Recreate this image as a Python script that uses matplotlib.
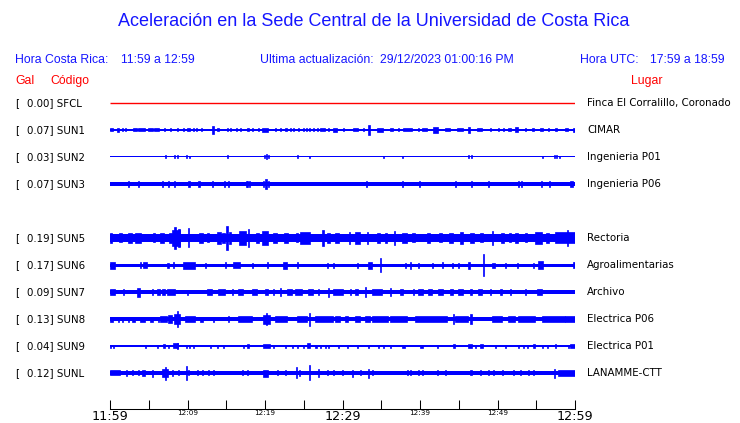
import matplotlib
matplotlib.use("Agg")
import matplotlib.pyplot as plt

# ---------------- data ----------------
title = "Aceleración en la Sede Central de la Universidad de Costa Rica"
hora_cr = "11:59 a 12:59"
ultima = "29/12/2023 01:00:16 PM"
hora_utc = "17:59 a 18:59"

codes = ["SFCL", "SUN1", "SUN2", "SUN3", "SUN5", "SUN6", "SUN7", "SUN8", "SUN9", "SUNL"]
gal = [0.00, 0.07, 0.03, 0.07, 0.19, 0.17, 0.09, 0.13, 0.04, 0.12]
places = ["Finca El Corralillo, Coronado", "CIMAR", "Ingenieria P01", "Ingenieria P06",
          "Rectoria", "Agroalimentarias", "Archivo", "Electrica P06", "Electrica P01", "LANAMME-CTT"]
rows = [0, 1, 2, 3, 5, 6, 7, 8, 9, 10]          # slot 4 (SUN4) empty
base_amp = [0.5, 0.8, 0.5, 1.9, 3.6, 1.5, 1.7, 1.7, 0.6, 1.7]   # background half-amplitude

tick_minutes = [0, 5, 10, 15, 20, 25, 30, 35, 40, 45, 50, 55, 60]
tick_labels = ["11:59", "", "12:09", "", "12:19", "", "12:29", "", "12:39", "", "12:49", "", "12:59"]
big_labels = ["11:59", "12:29", "12:59"]

# bursts: (start minute, duration minutes, half-amplitude)
sfcl = []
sun1 = [(0.0,0.4,1.5),(0.9,0.2,2),(1.5,0.2,1.5),(1.9,0.15,1.5),(3.0,0.5,1.5),(3.6,0.9,1.5),
        (4.9,0.6,1.5),(5.7,0.6,1.5),(7.0,0.15,1.5),(7.7,0.15,1.5),(8.6,0.15,1.5),(9.4,0.2,1.5),
        (9.9,0.4,1.5),(10.7,0.15,1.5),(11.1,0.15,1.5),(11.7,0.15,1.5),(13.2,0.2,4),(13.8,0.3,1.5),
        (15.1,0.15,1.5),(15.5,0.15,1.5),(16.3,0.15,1.5),(16.8,0.15,1.5),(17.7,0.2,1.5),(18.3,0.15,1.5),
        (19.1,0.15,1.5),(19.6,0.8,2),(21.3,0.15,1.5),(21.9,0.15,1.5),(22.6,0.3,1.5),(23.2,0.15,1.5),
        (23.6,0.15,1.5),(24.3,0.15,1.5),(24.9,0.15,1.5),(25.3,0.15,1.5),(25.7,0.15,1.5),(26.2,0.15,1.5),
        (26.7,0.15,1.5),(27.1,0.6,1.5),(28.1,0.15,1.5),(28.8,0.5,2),(30.1,0.15,1.5),(31.4,0.6,1.5),
        (32.6,0.15,1.5),(33.3,0.2,5),(34.5,0.7,2),(36.1,0.4,1.5),(37.2,0.15,1.5),(37.8,1.2,1.5),
        (39.7,0.15,1.5),(40.3,0.6,1.5),(41.7,0.6,3),(43.2,0.7,1.5),(44.8,0.7,1.5),(46.2,0.2,3),
        (47.4,0.6,1.5),(49.0,0.15,1.5),(50.1,0.15,1.5),(50.7,0.15,1.5),(51.4,0.3,1.5),(52.3,0.3,2.5),
        (53.5,0.15,1.5),(54.5,0.15,1.5),(55.5,0.4,1.5),(56.5,0.15,1.5),(57.4,0.3,1.5),(58.7,0.4,1.5),
        (59.8,0.2,2)]
sun2 = [(7.1,0.15,1.5),(8.3,0.15,1.5),(8.6,0.15,1.5),(9.8,0.15,1.5),(10.2,0.15,1.2),(15.1,0.15,1.5),
        (19.9,0.15,1.5),(20.1,0.2,2.5),(20.4,0.15,1.5),(24.1,0.15,1.5),(25.7,0.15,1.2),(35.2,0.15,1.2),
        (37.7,0.15,1.2),(46.2,0.15,1.5),(46.6,0.15,1.5),(55.7,0.15,1.2),(57.3,0.15,1.5),(57.5,0.15,1.5),
        (57.9,0.15,1.2)]
sun3 = [(2.3,0.15,3),(3.6,0.15,3),(6.7,0.15,3),(7.5,0.15,3),(8.3,0.15,3),(10.1,0.25,3.2),
        (11.4,0.15,3),(13.2,0.15,3),(14.7,0.15,3),(15.2,0.15,3),(17.5,0.15,3),(17.7,0.15,3),
        (17.9,0.15,3),(19.7,0.15,3),(20.0,0.3,5),(20.4,0.15,3),(33.0,0.15,3),(37.7,0.15,3),
        (39.9,0.15,3),(44.5,0.15,3),(46.6,0.15,3),(48.8,0.15,3),(52.6,0.15,3),(53.0,0.15,3),
        (55.6,0.15,3),(56.6,0.15,3),(59.4,0.4,3.2)]
sun5 = [(0.0,0.3,5),(1.2,0.3,4.5),(2.3,0.5,5),(3.2,0.8,5),(5.5,0.3,4.5),(6.5,0.5,5),(7.6,0.4,5),
        (8.0,1.0,8),(8.3,0.2,11),(8.8,0.2,9),(10.1,0.15,9.5),(11.5,0.5,5),(12.5,0.3,4.5),(13.8,0.5,6),
        (14.5,0.3,5),(15.0,0.2,12),(15.3,0.3,6),(16.7,0.8,7),(17.8,0.15,9),(18.8,0.4,5),(19.6,0.8,7),
        (21.0,0.5,5),(22.5,0.5,5),(24.0,0.3,4.5),(24.5,1.3,6),(27.4,0.15,8),(28.0,0.4,5),(29.0,0.5,5),
        (30.8,0.15,6),(31.6,0.7,6),(33.2,0.15,6),(34.5,0.4,5),(35.5,0.3,5),(36.6,0.15,7),(37.7,0.6,5),
        (39.0,0.4,4.5),(40.9,0.4,5),(42.5,0.4,4.5),(43.8,0.4,5),(45.2,0.4,6),(46.5,0.5,5),(47.8,0.3,4.5),
        (49.3,0.15,7),(50.5,0.4,5),(51.5,0.3,4.5),(52.3,0.4,5),(53.5,0.3,4.5),(54.8,0.9,6),(56.3,0.3,5),
        (57.4,2.6,5.5),(59.0,0.15,8)]
sun6 = [(0.0,0.6,3.5),(3.9,0.15,3),(4.3,0.5,3),(7.4,0.15,2.5),(8.1,0.15,3),(9.4,1.6,3.5),(12.3,0.15,2.5),
        (14.8,0.15,3),(15.9,0.9,3),(18.3,0.15,2.5),(20.3,0.15,3),(22.3,0.5,3.5),(24.1,0.15,3),(28.0,0.15,2.5),
        (28.8,0.15,2.5),(31.9,0.15,2.5),(33.3,0.5,3.5),(34.8,0.15,7),(38.1,0.15,2.5),(38.7,0.15,3.5),
        (39.7,0.15,2.5),(41.5,0.15,2.5),(42.8,0.15,3),(44.1,0.15,2.5),(44.9,0.15,2.5),(46.2,0.3,3.5),
        (48.1,0.15,11),(49.3,0.4,2.5),(51.0,0.15,2.5),(52.5,0.15,2.5),(54.6,0.15,2.5),(55.2,0.7,4),
        (59.7,0.3,3)]
sun7 = [(0.0,0.6,3),(1.7,0.15,3),(3.5,0.4,4.5),(5.4,0.15,3),(6.1,0.4,3),(6.7,0.4,3),(7.4,1.0,3.2),
        (9.9,0.15,2.5),(12.5,0.7,3.2),(13.9,0.9,2.8),(15.7,0.15,3),(16.5,0.7,2.8),(18.3,0.7,2.8),(20.0,0.4,3),
        (21.0,0.15,3),(21.9,0.15,4),(22.8,0.7,2.8),(23.9,0.9,3.2),(25.5,0.7,2.8),(26.8,0.15,3),(28.1,0.15,4.5),
        (28.8,1.3,3.2),(31.0,0.15,3),(31.6,0.4,3),(32.9,0.15,5),(33.8,1.3,3.2),(36.1,0.15,4),(37.4,0.4,3),
        (39.1,0.15,3),(39.7,0.7,2.8),(41.0,0.5,2.8),(42.3,0.7,2.8),(43.9,0.4,3.2),(44.9,0.6,3.2),(46.5,0.15,3),
        (47.5,0.5,2.8),(49.0,0.15,3),(50.3,0.3,3),(51.6,0.15,3),(53.5,0.15,3),(55.1,0.6,2.8)]
sun8 = [(0.0,0.4,2.5),(1.0,0.15,2.5),(1.5,0.15,2.5),(2.3,0.15,2.5),(2.8,0.4,2.5),(3.9,0.6,2.5),(5.2,0.4,2.5),
        (6.2,0.15,2.5),(6.5,0.9,2.7),(7.5,0.5,4),(8.3,0.7,5),(8.6,0.15,8.5),(9.7,1.3,2.7),(11.6,0.4,2.5),
        (13.3,0.15,2.5),(15.2,0.15,3),(16.5,1.8,2.6),(19.7,0.9,4.5),(20.1,0.15,6),(21.3,1.5,2.6),(24.1,1.3,2.6),
        (25.7,0.15,6.5),(26.5,2.3,2.6),(29.0,0.7,2.6),(30.3,0.4,2.6),(31.6,0.7,2.6),(32.9,0.6,2.6),(33.8,2.1,2.8),
        (36.1,2.2,2.6),(39.4,4.1,2.8),(44.3,0.15,5),(44.5,1.7,2.8),(46.5,0.15,5),(49.3,1.3,2.8),(51.4,0.9,2.6),
        (52.6,2.2,2.6),(55.7,3.0,2.6),(58.7,1.3,2.6)]
sun9 = [(0.0,0.15,1.5),(0.4,0.15,1.5),(4.5,0.15,1.5),(6.1,0.15,1.5),(6.8,0.3,2),(7.5,0.15,1.5),(8.1,0.7,2.5),
        (8.6,0.15,3),(9.8,0.15,1.5),(10.2,0.15,1.5),(10.7,0.15,1.5),(12.9,0.15,1.5),(13.8,0.15,1.5),
        (14.6,0.15,1.5),(17.2,0.15,1.5),(17.7,0.2,2),(19.7,0.9,2),(21.0,0.15,1.5),(22.6,0.15,1.5),
        (23.5,0.15,1.5),(24.1,0.15,1.5),(24.9,0.15,1.5),(25.4,0.4,2.5),(26.5,0.15,1.5),(27.1,0.15,1.5),
        (27.7,0.15,1.5),(28.1,0.15,1.5),(29.4,0.15,1.5),(30.6,0.15,1.5),(31.9,0.15,1.5),(33.3,0.15,1.5),
        (34.6,0.15,1.5),(35.2,0.15,1.5),(36.1,0.15,1.5),(37.7,0.4,1.5),(40.0,0.4,1.5),(42.2,0.15,1.5),
        (44.3,0.2,2),(46.2,0.5,2),(47.1,0.15,1.5),(47.7,0.4,2),(49.7,0.15,1.5),(51.0,0.15,1.5),
        (52.6,0.15,1.5),(53.3,0.15,1.5),(53.8,0.15,1.5),(54.6,0.2,2),(55.7,0.15,1.5),(56.4,0.15,1.5),
        (57.4,0.2,2),(59.1,0.15,1.5),(59.4,0.6,2)]
sunl = [(0.0,1.3,2.5),(2.1,0.15,3),(2.8,0.15,2.5),(3.6,0.15,2.5),(4.1,0.4,3),(5.4,0.15,3.5),(6.7,0.8,4),
        (7.1,0.15,6.5),(8.0,0.15,3),(8.8,0.15,2.5),(9.8,0.15,7),(10.1,0.15,2.5),(11.2,0.15,2.5),
        (11.9,0.15,2.5),(12.6,0.15,2.5),(13.3,0.15,2.5),(17.0,0.15,2.5),(17.7,0.15,2.5),(19.7,0.7,3.5),
        (21.5,0.15,2.5),(22.6,0.15,2.5),(24.0,0.15,5.5),(24.4,0.15,3),(25.7,0.15,7.5),(26.8,0.15,4),
        (28.0,0.15,2.5),(28.8,0.15,2.5),(29.9,0.15,2.5),(31.2,0.15,3.5),(32.3,0.15,2.5),(33.3,0.15,4.5),
        (33.8,0.15,2.5),(38.3,0.15,2.5),(38.7,0.15,2.5),(39.7,0.15,2.5),(40.3,0.15,2.5),(42.2,0.15,2.5),
        (43.2,0.15,2.5),(46.5,0.15,2.5),(47.7,0.15,2.5),(48.8,0.15,2.5),(49.4,0.15,2.5),(50.6,0.15,2.5),
        (52.0,0.15,2.5),(52.9,0.15,2.5),(53.9,0.15,2.5),(54.6,0.15,2.5),(57.3,0.15,4.5),(57.8,2.2,3)]
bursts = [sfcl, sun1, sun2, sun3, sun5, sun6, sun7, sun8, sun9, sunl]

# ---------------- figure ----------------
W, H = 740, 423
fig = plt.figure(figsize=(W / 100, H / 100), dpi=100)
fig.patch.set_facecolor("white")

BLUE = "#0000ff"
TXTBLUE = "#1515ff"
RED = "#ff0000"
SANS = ["Liberation Sans", "DejaVu Sans"]
LBL = ["DejaVu Sans"]

def fx(px):
    return px / W

def fy(py):
    return 1 - py / H

# header texts
fig.text(fx(374), fy(22), title, ha="center", va="center", color=TXTBLUE, fontsize=13, family=SANS)
fig.text(fx(15), fy(60), "Hora Costa Rica:", ha="left", va="center", color=TXTBLUE, fontsize=8.8, family=SANS)
fig.text(fx(121), fy(60), hora_cr, ha="left", va="center", color=TXTBLUE, fontsize=8.8, family=SANS)
fig.text(fx(260), fy(60), "Ultima actualización:", ha="left", va="center", color=TXTBLUE, fontsize=8.8, family=SANS)
fig.text(fx(380), fy(60), ultima, ha="left", va="center", color=TXTBLUE, fontsize=8.8, family=SANS)
fig.text(fx(580), fy(60), "Hora UTC:", ha="left", va="center", color=TXTBLUE, fontsize=8.8, family=SANS)
fig.text(fx(650), fy(60), hora_utc, ha="left", va="center", color=TXTBLUE, fontsize=8.8, family=SANS)
fig.text(fx(15), fy(81), "Gal", ha="left", va="center", color=RED, fontsize=8.8, family=SANS)
fig.text(fx(50), fy(81), "Código", ha="left", va="center", color=RED, fontsize=8.8, family=SANS)
fig.text(fx(662), fy(81), "Lugar", ha="right", va="center", color=RED, fontsize=8.8, family=SANS)

# trace axes
ROW_PX = 27.0
ax = fig.add_axes([fx(110), fy(409), (575 - 110) / W, (409 - 90) / H])
ax.set_xlim(0, 60)
ax.set_ylim((409 - 103) / ROW_PX, (90 - 103) / ROW_PX)
for s in ["top", "left", "right"]:
    ax.spines[s].set_visible(False)
ax.spines["bottom"].set_linewidth(0.75)
ax.spines["bottom"].set_color("black")
ax.set_yticks([])
ax.set_xticks(tick_minutes)
ax.set_xticklabels(tick_labels)
ax.tick_params(axis="x", direction="in", length=6.5, width=0.75, color="black", pad=0.8)
for lab in ax.get_xticklabels():
    lab.set_family(LBL)
    if lab.get_text() in big_labels:
        lab.set_fontsize(9.2)
    else:
        lab.set_fontsize(5.2)

for i, (code, g, place, r, b, bl) in enumerate(zip(codes, gal, places, rows, base_amp, bursts)):
    color = RED if g == 0 else BLUE
    if g == 0:
        ax.plot([0, 60], [r, r], color=color, lw=1.0, solid_capstyle="butt")
    else:
        ax.bar([0], [2 * b / ROW_PX], width=60, bottom=r - b / ROW_PX, align="edge",
               color=color, linewidth=0)
        if bl:
            ts = [t for t, d, a in bl]
            ds = [d for t, d, a in bl]
            hs = [2 * a / ROW_PX for t, d, a in bl]
            bs = [r - a / ROW_PX for t, d, a in bl]
            ax.bar(ts, hs, width=ds, bottom=bs, align="edge", color=color,
                   edgecolor=color, linewidth=0.5)
    ypx = 103 + ROW_PX * r
    fig.text(fx(15), fy(ypx), "[", ha="left", va="center", fontsize=7.4, family=LBL, color="black")
    fig.text(fx(27), fy(ypx), f"{g:.2f}] {code}", ha="left", va="center", fontsize=7.4, family=LBL, color="black")
    fig.text(fx(587), fy(ypx), place, ha="left", va="center", fontsize=7.4, family=LBL, color="black")

fig.savefig("out.png", dpi=100, facecolor="white")
